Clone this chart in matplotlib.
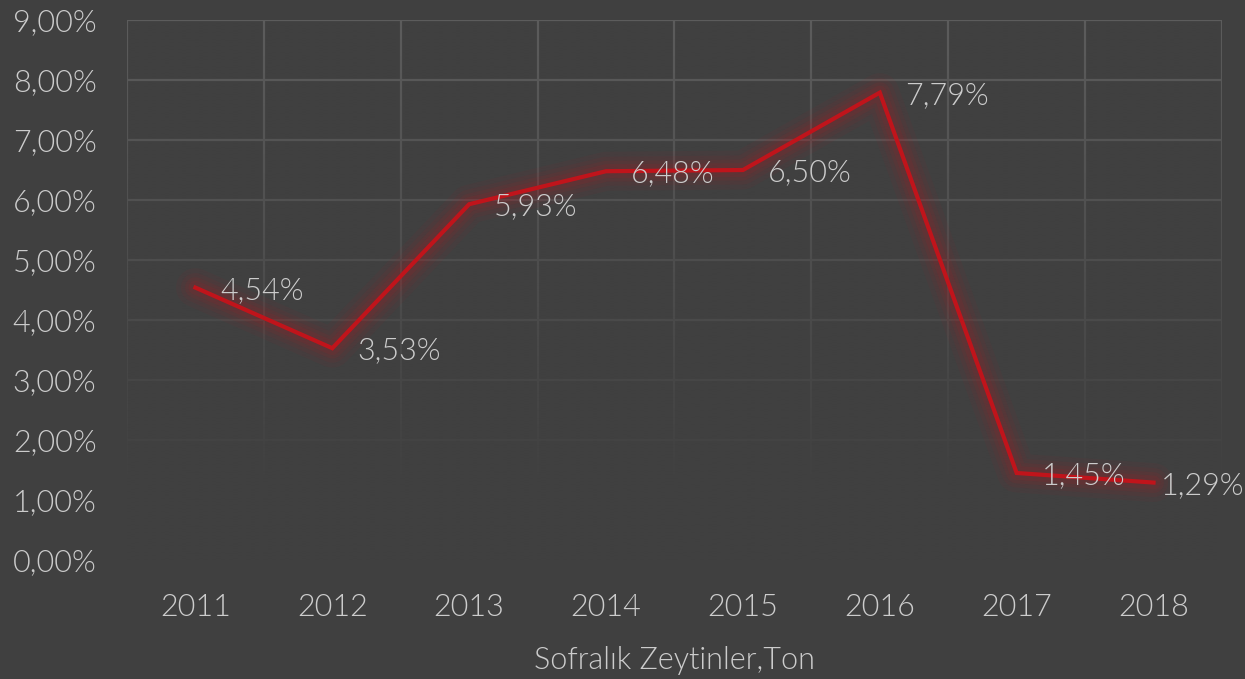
import numpy as np
import matplotlib
matplotlib.use("Agg")
from matplotlib import pyplot as plt
from matplotlib.colors import to_rgb

# yearly share, percent
years = ["2011", "2012", "2013", "2014", "2015", "2016", "2017", "2018"]
share = [4.54, 3.53, 5.93, 6.48, 6.50, 7.79, 1.45, 1.29]
yticks = [0, 1, 2, 3, 4, 5, 6, 7, 8, 9]
xlabel = "Sofralık Zeytinler,Ton"

bg = "#404040"
fg = "#cccccc"
red = "#c0141b"

plt.rcParams['font.family'] = ['Lato', 'DejaVu Sans']
plt.rcParams['font.weight'] = 300

def pct(v):
    return ("%.2f%%" % v).replace(".", ",")

fig = plt.figure(figsize=(12.45, 6.79), dpi=100, facecolor=bg)
ax = fig.add_axes([0.102, 0.1753, 0.8795, 0.7952], facecolor=bg)

x = np.arange(len(years))
ax.set_xlim(-0.5, len(years) - 0.5)
ax.set_ylim(0, 9)

# grid: vertical lines at category boundaries, horizontal at each percent
for b in np.arange(-0.5, len(years), 1.0):
    ax.axvline(b, color="#5c5c5c", lw=1.6, zorder=0.5)
for t in yticks[1:]:
    ax.axhline(t, color="#5c5c5c", lw=1.6, zorder=0.5)

# fade the grid out toward the bottom
h = 200
alpha = np.clip(np.linspace(0, 1.15, h), 0, 1)[:, None]
shade = np.zeros((h, 1, 4))
shade[..., :3] = to_rgb(bg)
shade[..., 3] = alpha
ax.imshow(shade, extent=(-0.5, len(years) - 0.5, 0, 9), aspect="auto",
          zorder=1, interpolation="bilinear")
ax.set_ylim(0, 9)

# soft red glow under the line
for lw, a in [(28, 0.05), (21, 0.06), (15, 0.08), (10, 0.10)]:
    ax.plot(x, share, color=red, lw=lw, alpha=a, solid_joinstyle="round",
            solid_capstyle="round", zorder=2)
ax.plot(x, share, color=red, lw=3, solid_joinstyle="miter", zorder=3)

for i, v in enumerate(share):
    dx = 18 if i < len(share) - 1 else 5
    ax.annotate(pct(v), (x[i], v), xytext=(dx, -2), textcoords="offset points",
                ha="left", va="center", color=fg, fontsize=22,
                fontweight=300, zorder=4)

ax.set_xticks(x)
ax.set_xticklabels(years, fontweight=300)
ax.set_yticks(yticks)
ax.set_yticklabels([pct(t) for t in yticks], fontweight=300)
ax.tick_params(colors=fg, labelsize=22, length=0)
ax.tick_params(axis="x", pad=24)
ax.tick_params(axis="y", pad=22)
for s in ax.spines.values():
    s.set_visible(False)

ax.set_xlabel(xlabel, color=fg, fontsize=22, fontweight=300, labelpad=17)

fig.savefig("out.png", dpi=100, facecolor=bg)
